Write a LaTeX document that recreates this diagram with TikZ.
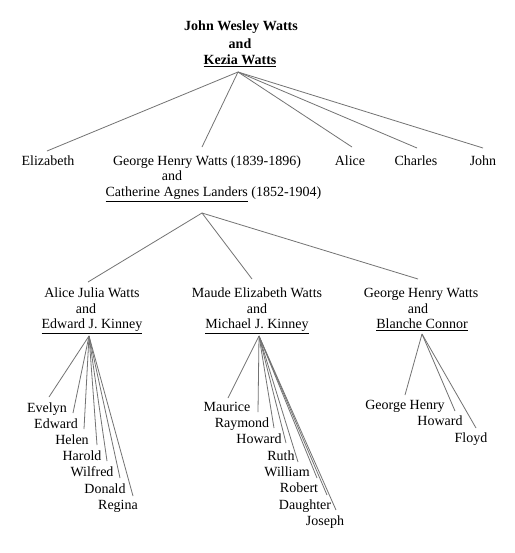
\documentclass[tikz,border=0pt]{standalone}
\usepackage{fontspec}
\setmainfont{Liberation Serif}
\begin{document}
\begin{tikzpicture}[x=0.75pt,y=-0.75pt,
  txt/.style={font=\fontsize{10.5}{12}\selectfont, inner sep=0pt, anchor=base},
  btxt/.style={font=\fontsize{10.5}{12}\selectfont\bfseries, inner sep=0pt, anchor=base},
  link/.style={draw=black!55, line width=0.6pt}]
\useasboundingbox[fill=white] (0,0) rectangle (514,553);

% ---- root couple
\node[btxt] (jw) at (241,31) {John Wesley Watts};
\node[btxt] (jwand) at (240,48.5) {and};
\node[btxt] (kw) at (240,64.5) {\underline{Kezia Watts}};
\coordinate (r0) at (238,72);

% ---- generation 1
\node[txt] (eliz) at (48,165) {Elizabeth};
\node[txt] (ghw) at (207,165) {George Henry Watts (1839-1896)};
\node[txt] (ghwand) at (172,180) {and};
\node[txt] (cal) at (213.5,196) {\underline{Catherine Agnes Landers} (1852-1904)};
\node[txt] (alice) at (350,165) {Alice};
\node[txt] (charles) at (416,165) {Charles};
\node[txt] (john) at (483,165) {John};

\coordinate (eElz) at (47,151);
\coordinate (eGhw) at (202,147);
\coordinate (eAli) at (352,147);
\coordinate (eCha) at (417,148);
\coordinate (eJoh) at (483,148);
\foreach \e in {eElz,eGhw,eAli,eCha,eJoh} \draw[link] (r0) -- (\e);

% ---- generation 2
\coordinate (r1) at (202,213);
\node[txt] (ajw) at (92,297) {Alice Julia Watts};
\node[txt] (ajwand) at (86,313) {and};
\node[txt] (ejk) at (92,328.5) {\underline{Edward J. Kinney}};
\node[txt] (mew) at (257,297) {Maude Elizabeth Watts};
\node[txt] (mewand) at (257,313) {and};
\node[txt] (mjk) at (257,328.5) {\underline{Michael J. Kinney}};
\node[txt] (ghw2) at (421,297) {George Henry Watts};
\node[txt] (ghw2and) at (418,313) {and};
\node[txt] (bc) at (422,328.5) {\underline{Blanche Connor}};

\coordinate (eAjw) at (88,282);
\coordinate (eMew) at (252,279);
\coordinate (eGh2) at (418,279);
\foreach \e in {eAjw,eMew,eGh2} \draw[link] (r1) -- (\e);

% ---- children of Alice Julia & Edward J. Kinney
\coordinate (r2) at (89,336);
\node[txt] (evelyn) at (47,412) {Evelyn};
\node[txt] (edward) at (56,428) {Edward};
\node[txt] (helen) at (72,444) {Helen};
\node[txt] (harold) at (82,460.5) {Harold};
\node[txt] (wilfred) at (92,476.5) {Wilfred};
\node[txt] (donald) at (105,493) {Donald};
\node[txt] (regina) at (118,509) {Regina};
\coordinate (c1) at (49,397);
\coordinate (c2) at (73,413);
\coordinate (c3) at (84,429);
\coordinate (c4) at (97,445);
\coordinate (c5) at (107,461);
\coordinate (c6) at (120,478);
\coordinate (c7) at (133,496);
\foreach \e in {c1,c2,c3,c4,c5,c6,c7} \draw[link] (r2) -- (\e);

% ---- children of Maude Elizabeth & Michael J. Kinney
\coordinate (r3) at (259,336);
\node[txt] (maurice) at (227,411) {Maurice};
\node[txt] (raymond) at (242,427) {Raymond};
\node[txt] (howard) at (259,443) {Howard};
\node[txt] (ruth) at (281,460) {Ruth};
\node[txt] (william) at (287,476.5) {William};
\node[txt] (robert) at (299,492.5) {Robert};
\node[txt] (daughter) at (305,509) {Daughter};
\node[txt] (joseph) at (325,525) {Joseph};
\coordinate (d1) at (228,398);
\coordinate (d2) at (258,412);
\coordinate (d3) at (274,428);
\coordinate (d4) at (286,443);
\coordinate (d5) at (298,462);
\coordinate (d6) at (317,478);
\coordinate (d7) at (327,495);
\coordinate (d8) at (336,510);
\foreach \e in {d1,d2,d3,d4,d5,d6,d7,d8} \draw[link] (r3) -- (\e);

% ---- children of George Henry & Blanche Connor
\coordinate (r4) at (422,334);
\node[txt] (georgeh) at (405,409) {George Henry};
\node[txt] (howard2) at (440,425) {Howard};
\node[txt] (floyd) at (471,442) {Floyd};
\coordinate (g1) at (405,395);
\coordinate (g2) at (455,411);
\coordinate (g3) at (476,428);
\foreach \e in {g1,g2,g3} \draw[link] (r4) -- (\e);
\end{tikzpicture}
\end{document}
